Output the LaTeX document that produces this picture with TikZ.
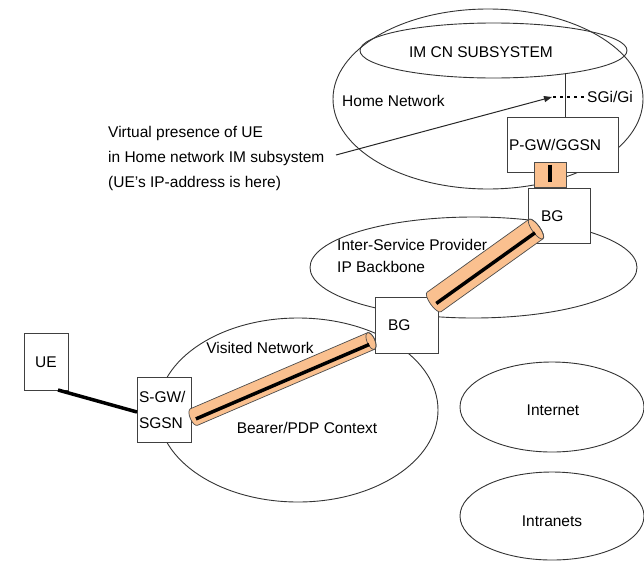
\documentclass[tikz,border=0pt]{standalone}
\usepackage{fontspec}
\setmainfont{Liberation Sans}
\usetikzlibrary{shapes.geometric,arrows.meta,calc}
\definecolor{tubeorange}{HTML}{FAC08F}
\tikzset{
  net/.style={draw=black!80, line width=0.9pt, ellipse, inner sep=0pt, outer sep=0pt},
  box/.style={draw=black!75, line width=1pt, fill=white, rectangle, inner sep=0pt, outer sep=0pt,
              font=\fontsize{15.5}{26}\selectfont},
  lbl/.style={font=\fontsize{15.5}{25}\selectfont, inner sep=0pt, text height=11.2pt, text depth=0pt},
  tubefill/.style={fill=tubeorange, draw=black!70, line width=0.7pt},
}
\newcommand{\tubeconn}[3]{%
  \path let \p1=($(#2)-(#1)$) in \pgfextra{%
    \pgfmathsetmacro\tubeang{atan2(\y1,\x1)}%
    \pgfmathsetmacro\tubelen{veclen(\x1,\y1)}%
    \global\let\tubeang\tubeang\global\let\tubelen\tubelen};
  \begin{scope}[shift={(#1)}, rotate=\tubeang]
    \path[tubefill] (0pt,#3) -- (\tubelen pt,#3)
      arc[start angle=90,end angle=-90,x radius=4pt,y radius=#3]
      -- (0pt,-#3)
      arc[start angle=270,end angle=90,x radius=4pt,y radius=#3] -- cycle;
    \draw[black!70, line width=0.7pt] (\tubelen pt,0pt) ellipse[x radius=4pt, y radius=#3];
    \draw[line width=3.5pt] (1pt,-2.5pt) -- (\tubelen pt-3pt,-2.5pt);
  \end{scope}}
\begin{document}
\begin{tikzpicture}[x=1pt,y=-1pt]
\useasboundingbox (0,0) rectangle (644,560);

% networks
\node[net, minimum width=310pt, minimum height=180pt] (home) at (488,99) {};
\node[net, minimum width=267pt, minimum height=55pt] (imcn) at (493.5,50.5) {};
\node[net, minimum width=327pt, minimum height=101pt] (isp) at (473.5,267.5) {};
\node[net, minimum width=280pt, minimum height=184pt] (visited) at (298,410) {};
\node[net, minimum width=184pt, minimum height=90pt] (internet) at (552,407) {};
\node[net, minimum width=184pt, minimum height=88pt] (intranets) at (552,516) {};

% boxes
\node[box, minimum width=111pt, minimum height=55pt, text width=107pt, inner xsep=2pt, align=left,
      text height=11.2pt, text depth=0pt] (pgw) at (562.5,144.5) {P-GW/GGSN};
\node[box, minimum width=62pt, minimum height=55pt, text width=36pt, inner xsep=13pt, align=left,
      text height=11.2pt, text depth=0pt] (bg1) at (559,215.5) {BG};
\node[box, minimum width=63pt, minimum height=56pt, text width=37pt, inner xsep=13pt, align=left,
      text height=11.2pt, text depth=0pt] (bg2) at (406.5,325) {BG};
\node[box, minimum width=54pt, minimum height=65pt, text width=50pt, inner xsep=2pt, align=left] (sgw) at (164,409.5) {S-GW/\\SGSN};
\node[box, minimum width=44pt, minimum height=57pt, text height=11.2pt, text depth=0pt] (ue) at (46,361.5) {UE};

% IM CN to P-GW
\draw[black!80, line width=0.9pt] (imcn.-18.8) -- (imcn.-18.8 |- pgw.north);

% labels
\node[lbl] (imcntxt) at (481,52) {IM CN SUBSYSTEM};
\node[lbl, anchor=west] (hometxt) at (342,101) {Home Network};
\node[lbl, anchor=west] (sgitxt) at (587,97) {SGi/Gi};
\node[font=\fontsize{15.5}{25}\selectfont, inner sep=0pt, align=left, anchor=north west] (virt) at (108,126)
  {Virtual presence of UE\\in Home network IM subsystem\\(UE's IP-address is here)};
\node[lbl, anchor=west] (isptxt1) at (337,245) {Inter-Service Provider};
\node[lbl, anchor=west] (isptxt2) at (337,267) {IP Backbone};
\node[lbl] (vistxt) at (260,348) {Visited Network};
\node[lbl] (bearertxt) at (307,428) {Bearer/PDP Context};
\node[lbl] (inettxt) at (553,410) {Internet};
\node[lbl] (intratxt) at (552,521) {Intranets};

% arrow to SGi point and dotted interface
\coordinate (arrstart) at (336,155);
\coordinate (sgipt) at (552,97);
\draw[black!85, line width=1pt, -{Triangle[length=8pt,width=6pt]}] (arrstart) -- (sgipt);
\draw[line width=2.5pt, dash pattern=on 2.5pt off 4.5pt] ([xshift=1pt]sgipt) -- ([xshift=-3pt]sgitxt.west);

% link between P-GW and BG
\node[draw=black!70, line width=0.7pt, fill=tubeorange, minimum width=32pt, minimum height=25pt, inner sep=0pt] (link) at (550,174.5) {};
\draw[line width=3.5pt] ([yshift=-3pt]link.north) -- ([yshift=5pt]link.south);

% tunnels
\coordinate (t1a) at (194,417);
\coordinate (t1b) at (371,341);
\coordinate (t2a) at (434,302);
\coordinate (t2b) at (536,229);
\tubeconn{t1a}{t1b}{9pt}
\tubeconn{t2a}{t2b}{12pt}

% UE radio link
\draw[line width=3.5pt] ([xshift=-10pt]ue.south east) -- ([yshift=-2.5pt]sgw.west);
\end{tikzpicture}
\end{document}
